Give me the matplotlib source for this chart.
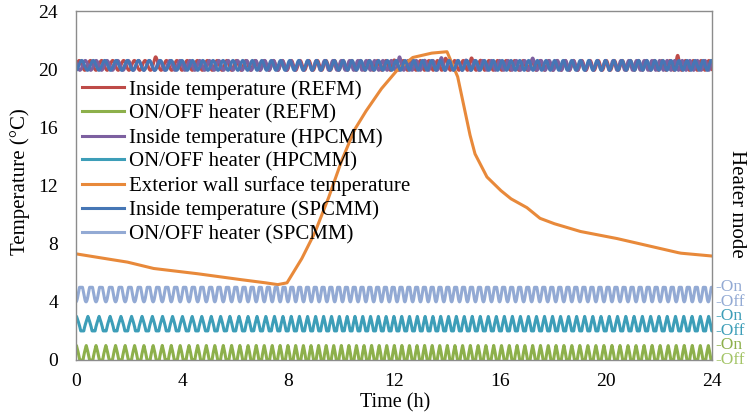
import numpy as np
import matplotlib
matplotlib.use("Agg")
import matplotlib.pyplot as plt

plt.rcParams['font.family'] = ['Liberation Serif', 'DejaVu Serif']

# ---- data ----
hours = list(range(25))
# cycles per hour of the heaters (read from peak spacing)
rate_refm = [2.7, 2.7, 2.8, 2.9, 3.0, 3.1, 3.2, 3.3, 3.4, 3.5, 3.5, 3.5, 3.5,
             3.5, 3.5, 3.4, 3.4, 3.4, 3.4, 3.3, 3.3, 3.3, 3.3, 3.3, 3.3]
rate_hpcmm = [2.3, 2.4, 2.5, 2.6, 2.7, 2.8, 2.9, 3.0, 3.2, 3.3, 3.4, 3.4, 3.4,
              3.4, 3.4, 3.3, 3.3, 3.3, 3.3, 3.3, 3.2, 3.2, 3.2, 3.2, 3.2]
rate_spcmm = [2.6, 2.7, 2.8, 2.9, 3.0, 3.1, 3.2, 3.3, 3.4, 3.4, 3.4, 3.4, 3.4,
              3.4, 3.4, 3.3, 3.3, 3.3, 3.3, 3.3, 3.3, 3.3, 3.3, 3.3, 3.3]
# inside temperature oscillation rate (cycles per hour)
rate_inside = [2.3, 2.3, 2.4, 2.4, 2.5, 2.6, 2.7, 2.8, 2.9, 3.0, 3.0, 3.0, 3.0,
               3.0, 3.0, 3.0, 3.0, 3.0, 3.1, 3.1, 3.2, 3.2, 3.3, 3.3, 3.3]
# heater lane offsets (Off level) on the temperature axis
off_refm, off_hpcmm, off_spcmm = 0, 2, 4
# inside temperature band
t_low, t_high = 19.92, 20.6
# occasional higher peaks (hour, value)
spikes_refm = [(3.0, 20.85), (11.9, 20.9), (13.9, 20.85), (14.9, 20.8), (15.4, 20.9), (22.7, 20.95)]
spikes_hpcmm = [(12.2, 20.85), (13.3, 20.9), (13.8, 20.8), (14.6, 20.9), (17.2, 20.8)]

# exterior wall surface temperature
ext_t = [0, 1, 1.9, 2.9, 4.4, 5.9, 7.0, 7.6, 7.96, 8.5, 9.0, 9.5, 10.0, 10.5, 10.9, 11.5,
         12.1, 12.7, 13.4, 14.0, 14.4, 14.85, 15.05, 15.5, 16.0, 16.4, 17.0, 17.5, 18.0,
         19.0, 20.3, 21.5, 22.8, 24.0]
ext_v = [7.3, 7.0, 6.75, 6.3, 5.98, 5.6, 5.35, 5.18, 5.3, 6.9, 8.7, 11.0, 13.6, 15.8, 17.0, 18.6,
         19.9, 20.8, 21.1, 21.2, 19.5, 15.6, 14.2, 12.6, 11.7, 11.1, 10.5, 9.75, 9.4,
         8.85, 8.4, 7.9, 7.35, 7.15]

labels = ["Inside temperature (REFM)", "ON/OFF heater (REFM)",
          "Inside temperature (HPCMM)", "ON/OFF heater (HPCMM)",
          "Exterior wall surface temperature", "Inside temperature (SPCMM)",
          "ON/OFF heater (SPCMM)"]
colors = ["#BE4B48", "#8DB04B", "#7D60A0", "#3D9EB8", "#E8893A", "#4676B5", "#93AAD4"]
xticks = [0, 4, 8, 12, 16, 20, 24]
yticks = [0, 4, 8, 12, 16, 20, 24]

# ---- build signals ----
t = np.linspace(0, 24, 9601)
dt = t[1] - t[0]

def phase(rate, shift):
    r = np.interp(t, hours, rate)
    return np.cumsum(r) * dt + shift

def heater(ph, width, roundness):
    f = ph % 1.0
    d = np.abs(f - 0.5)
    v = np.clip(1 - d / width, 0, 1)
    return v ** roundness

ph_r = phase(rate_refm, 0.45)
ph_h = phase(rate_hpcmm, 0.45)
ph_s = phase(rate_spcmm, 0.0)

h_refm = off_refm + heater(ph_r, 0.32, 0.8)
h_hpcmm = off_hpcmm + heater(ph_h, 0.36, 0.8)
h_spcmm = off_spcmm + np.clip(1.25 * (0.5 - 0.5 * np.cos(2 * np.pi * ph_s)), 0, 1)

def inside(ph, spikes):
    base = 0.5 - 0.5 * np.cos(2 * np.pi * ph)
    v = t_low + (t_high - t_low) * base
    for (ts, val) in spikes:
        m = np.exp(-((t - ts) / 0.08) ** 2)
        v = v + m * (val - t_high) * base
    return v

in_refm = inside(phase(rate_inside, 0.2) * 1.03, spikes_refm)
in_hpcmm = inside(phase(rate_inside, 0.6) * 1.06, spikes_hpcmm)
in_spcmm = inside(phase(rate_inside, 0.0), [])

ext = np.interp(t, ext_t, ext_v)

series = [in_refm, h_refm, in_hpcmm, h_hpcmm, ext, in_spcmm, h_spcmm]

# ---- plot ----
fig = plt.figure(figsize=(7.5, 4.2), dpi=100)
ax = fig.add_axes([76 / 750, 60 / 420, 636 / 750, 349 / 420])
for y, c, lab in zip(series, colors, labels):
    ax.plot(t, y, color=c, lw=2.2, label=lab, solid_joinstyle='round')

ax.set_xlim(0, 24)
ax.set_ylim(0, 24)
ax.set_xticks(xticks)
ax.set_yticks(yticks)
ax.tick_params(axis='y', length=0, labelsize=14, pad=13)
ax.tick_params(axis='x', length=0, labelsize=14, pad=9)
for s in ax.spines.values():
    s.set_color("#8C8C8C")
    s.set_linewidth(1.0)

fig.text(395 / 750, 1 - 403 / 420, "Time (h)", fontsize=14.5, ha="center", va="center")
fig.text(20 / 750, 1 - 182 / 420, "Temperature (°C)", fontsize=15, rotation=90,
         ha="center", va="center")

leg = ax.legend(loc="upper left", bbox_to_anchor=(6 / 636, (360 - 80) / 349), frameon=False,
                fontsize=15, handlelength=2.0, handletextpad=0.25,
                labelspacing=0.21, borderaxespad=0, borderpad=0)

# right side heater mode labels
side = [(5, "-On", "#93AAD4"), (4, "-Off", "#93AAD4"),
        (3, "-On", "#3D9EB8"), (2, "-Off", "#3D9EB8"),
        (1, "-On", "#8DB04B"), (0, "-Off", "#A3C466")]
for yv, txt, c in side:
    ax.text(24.12, yv, txt, color=c, fontsize=12.5, va="center", ha="left",
            transform=ax.transData, clip_on=False)

fig.text(736 / 750, 1 - 204 / 420, "Heater mode", rotation=270, fontsize=15,
         va="center", ha="center")

fig.savefig("out.png", dpi=100)
